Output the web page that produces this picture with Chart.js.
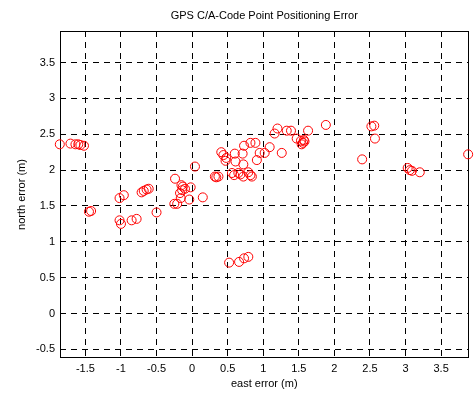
<!DOCTYPE html>
<html>
<head>
<meta charset="utf-8">
<script src="https://cdn.jsdelivr.net/npm/chart.js@4"></script>
<style>
  body { margin: 0; background: #fff; }
  #wrap { width: 474px; height: 396px; }
</style>
</head>
<body>
<div id="wrap"><canvas id="chart" width="474" height="396"></canvas></div>
<script>
// east / north positioning error (m)
const eastErr = [
    -1.86, -1.71, -1.64, -1.60, -1.57, -1.52,
    -1.45, -1.42,
    -1.02, -0.96, -1.02, -1.00, -0.85, -0.78,
    -0.71, -0.68, -0.64, -0.61, -0.50,
    -0.24, -0.25, -0.21, -0.17, -0.16, -0.15, -0.13, -0.14, -0.10, -0.04, -0.02, 0.15, 0.04,
    0.32, 0.34, 0.37,
    0.56, 0.59, 0.65, 0.68, 0.72, 0.79, 0.84, 0.82,
    0.41, 0.44, 0.48, 0.47, 0.60, 0.61, 0.71, 0.72, 0.73, 0.82, 0.89, 0.95, 0.91, 1.02, 1.09,
    1.16, 1.20, 1.26, 1.33, 1.39, 1.47, 1.53, 1.57, 1.54, 1.56, 1.58, 1.63, 1.88,
    2.39, 2.52, 2.56, 2.57,
    3.03, 3.06, 3.09, 3.20, 3.88,
    0.52, 0.66, 0.73, 0.79
];
const northErr = [
    2.36, 2.37, 2.36, 2.36, 2.35, 2.34,
    1.42, 1.43,
    1.61, 1.65, 1.30, 1.25, 1.30, 1.32,
    1.69, 1.71, 1.73, 1.74, 1.41,
    1.88, 1.53, 1.53, 1.68, 1.61, 1.79, 1.77, 1.72, 1.74, 1.59, 1.76, 1.62, 2.05,
    1.91, 1.90, 1.91,
    1.96, 1.93, 1.96, 1.94, 1.91, 1.97, 1.91, 1.93,
    2.25, 2.21, 2.17, 2.13, 2.23, 2.12, 2.23, 2.08, 2.34, 2.38, 2.38, 2.24, 2.14, 2.24, 2.32,
    2.51, 2.58, 2.24, 2.55, 2.55, 2.44, 2.41, 2.42, 2.36, 2.38, 2.40, 2.55, 2.63,
    2.15, 2.61, 2.62, 2.44,
    2.03, 2.00, 1.99, 1.97, 2.22,
    0.71, 0.72, 0.77, 0.79
];

const xTicks = [-1.5, -1, -0.5, 0, 0.5, 1, 1.5, 2, 2.5, 3, 3.5];
const xTickLabels = ['-1.5', '-1', '-0.5', '0', '0.5', '1', '1.5', '2', '2.5', '3', '3.5'];
const yTicks = [-0.5, 0, 0.5, 1, 1.5, 2, 2.5, 3, 3.5];
const yTickLabels = ['-0.5', '0', '0.5', '1', '1.5', '2', '2.5', '3', '3.5'];

const points = eastErr.map((e, i) => ({ x: e, y: northErr[i] }));

const FONT = { family: '"Liberation Sans", Arial, sans-serif', size: 11 };

// axes box drawn around the plot area
const boxPlugin = {
    id: 'axesBox',
    beforeDatasetsDraw(chart) {
        const { ctx, chartArea: a } = chart;
        ctx.save();
        ctx.strokeStyle = '#000';
        ctx.lineWidth = 1;
        ctx.setLineDash([]);
        ctx.strokeRect(Math.round(a.left) + 0.5, Math.round(a.top) + 0.5,
            Math.round(a.right - a.left) - 1, Math.round(a.bottom - a.top) - 1);
        ctx.restore();
    }
};

const ctx = document.getElementById('chart').getContext('2d');
new Chart(ctx, {
    type: 'scatter',
    data: {
        datasets: [{
            data: points,
            pointStyle: 'circle',
            pointRadius: 4.5,
            pointHoverRadius: 4.5,
            backgroundColor: 'rgba(0,0,0,0)',
            borderColor: '#ff0000',
            borderWidth: 1,
            clip: false,
        }],
    },
    options: {
        responsive: false,
        animation: false,
        layout: { padding: { left: 0, right: 1, top: 0, bottom: 0 } },
        plugins: {
            legend: { display: false },
            tooltip: { enabled: false },
            title: {
                display: true,
                fullSize: false,
                text: 'GPS C/A-Code Point Positioning Error',
                color: '#000',
                font: { ...FONT, weight: 'normal' },
                padding: { top: 9, bottom: 8.8 },
            },
        },
        scales: {
            x: {
                type: 'linear',
                min: -1.857,
                max: 3.885,
                afterBuildTicks: (scale) => { scale.ticks = xTicks.map(v => ({ value: v })); },
                afterFit: (scale) => { scale.height = 38; },
                ticks: {
                    color: '#000',
                    font: FONT,
                    padding: 4,
                    maxRotation: 0,
                    autoSkip: false,
                    callback: (v) => xTickLabels[xTicks.indexOf(v)],
                },
                grid: { color: '#000', lineWidth: 1, drawTicks: false },
                border: { display: false, dash: [6, 5] },
                title: {
                    display: true,
                    text: 'east error (m)',
                    color: '#000',
                    font: FONT,
                    padding: { top: 0, bottom: 5 },
                },
            },
            y: {
                type: 'linear',
                min: -0.62,
                max: 3.94,
                afterBuildTicks: (scale) => { scale.ticks = yTicks.map(v => ({ value: v })); },
                afterFit: (scale) => { scale.width = 60; },
                ticks: {
                    color: '#000',
                    font: FONT,
                    padding: 5,
                    autoSkip: false,
                    callback: (v) => yTickLabels[yTicks.indexOf(v)],
                },
                grid: { color: '#000', lineWidth: 1, drawTicks: false },
                border: { display: false, dash: [6, 5] },
                title: {
                    display: true,
                    text: 'north error (m)',
                    color: '#000',
                    font: FONT,
                    padding: { top: 15, bottom: 0 },
                },
            },
        },
    },
    plugins: [boxPlugin],
});
</script>
</body>
</html>
